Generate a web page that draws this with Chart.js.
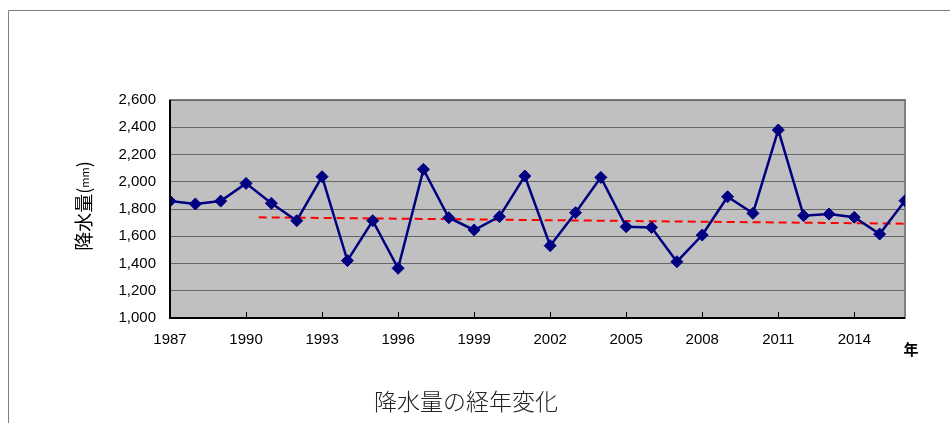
<!DOCTYPE html>
<html>
<head>
<meta charset="utf-8">
<script src="https://cdn.jsdelivr.net/npm/chart.js@4.4.1/dist/chart.umd.min.js"></script>
<style>
  html, body { margin: 0; padding: 0; background: #fff; }
  #wrap { width: 950px; height: 423px; position: relative; }
</style>
</head>
<body>
<div id="wrap"><canvas id="rainChart" width="950" height="423"></canvas></div>
<script>
// 年ごとの降水量 (mm)
const years = [1987, 1988, 1989, 1990, 1991, 1992, 1993, 1994, 1995, 1996,
               1997, 1998, 1999, 2000, 2001, 2002, 2003, 2004, 2005, 2006,
               2007, 2008, 2009, 2010, 2011, 2012, 2013, 2014, 2015, 2016];
const rainfall = [1858, 1837, 1858, 1988, 1842, 1714, 2037, 1421, 1714, 1365,
                  2091, 1736, 1646, 1744, 2042, 1531, 1773, 2032, 1670, 1665,
                  1413, 1609, 1890, 1768, 2380, 1751, 1763, 1739, 1616, 1861];
// 傾向線の両端
const trendYears = [1990.5, 2016];
const trendValues = [1739, 1692];
const xTickYears = [1987, 1990, 1993, 1996, 1999, 2002, 2005, 2008, 2011, 2014];

const FONT = "'Liberation Sans', Arial, sans-serif";
const JP = "'Noto Sans CJK JP', sans-serif";

const framePlugin = {
    id: 'frame',
    beforeDraw(chart) {
        const ctx = chart.ctx;
        const a = chart.chartArea;
        ctx.save();
        // outer frame
        ctx.strokeStyle = '#808080';
        ctx.lineWidth = 1;
        ctx.beginPath();
        ctx.moveTo(8.5, 423);
        ctx.lineTo(8.5, 10.5);
        ctx.lineTo(950, 10.5);
        ctx.stroke();
        // plot background
        ctx.fillStyle = '#c0c0c0';
        ctx.fillRect(a.left, a.top, a.right - a.left, a.bottom - a.top);
        ctx.strokeStyle = '#808080';
        ctx.lineWidth = 2;
        ctx.strokeRect(a.left, a.top, a.right - a.left, a.bottom - a.top);
        ctx.restore();
    },
    afterDraw(chart) {
        const ctx = chart.ctx;
        const a = chart.chartArea;
        const xs = chart.scales.x;
        ctx.save();
        // inward x tick marks
        ctx.strokeStyle = '#000';
        ctx.lineWidth = 1;
        xTickYears.forEach(y => {
            const px = Math.round(xs.getPixelForValue(y)) + 0.5;
            ctx.beginPath();
            ctx.moveTo(px, a.bottom - 6);
            ctx.lineTo(px, a.bottom);
            ctx.stroke();
        });
        // axis lines
        ctx.lineWidth = 2;
        ctx.beginPath();
        ctx.moveTo(a.left, a.top);
        ctx.lineTo(a.left, a.bottom);
        ctx.lineTo(a.right, a.bottom);
        ctx.stroke();

        ctx.fillStyle = '#000';
        // 年
        ctx.font = 'bold 15px ' + JP;
        ctx.textAlign = 'center';
        ctx.textBaseline = 'middle';
        ctx.fillText('年', 911, 349);

        // y axis title: 降水量(mm)
        ctx.translate(84, 206);
        ctx.rotate(-Math.PI / 2);
        ctx.textAlign = 'left';
        const parts = [
            ['降水量', '19px ' + JP, 0],
            ['(', '18px ' + JP, 0],
            ['mm', '11px ' + JP, 1],
            [')', '18px ' + JP, 0]
        ];
        let total = 0;
        parts.forEach(p => { ctx.font = p[1]; total += ctx.measureText(p[0]).width; });
        let x0 = -total / 2;
        parts.forEach(p => {
            ctx.font = p[1];
            ctx.fillText(p[0], x0, p[2]);
            x0 += ctx.measureText(p[0]).width;
        });
        ctx.restore();

        // bottom caption
        ctx.save();
        ctx.fillStyle = '#222';
        ctx.font = '300 23px ' + JP;
        ctx.textAlign = 'center';
        ctx.textBaseline = 'middle';
        ctx.fillText('降水量の経年変化', 466, 401);
        ctx.restore();
    }
};

const ctx = document.getElementById('rainChart').getContext('2d');
new Chart(ctx, {
    type: 'line',
    data: {
        datasets: [{
            label: '降水量',
            data: years.map((y, i) => ({ x: y, y: rainfall[i] })),
            borderColor: '#000080',
            backgroundColor: '#000080',
            borderWidth: 2.5,
            pointStyle: 'rectRot',
            pointRadius: 6,
            pointHoverRadius: 6,
            pointBorderWidth: 1,
            tension: 0
        }, {
            label: '傾向',
            data: trendYears.map((y, i) => ({ x: y, y: trendValues[i] })),
            borderColor: '#ff0000',
            borderWidth: 2,
            borderDash: [8, 5],
            pointRadius: 0,
            tension: 0
        }]
    },
    options: {
        responsive: false,
        animation: false,
        devicePixelRatio: 1,
        layout: { padding: { left: 75, top: 100, right: 45, bottom: 75 } },
        plugins: {
            legend: { display: false },
            tooltip: { enabled: false },
            title: { display: false }
        },
        scales: {
            x: {
                type: 'linear',
                min: 1987,
                max: 2016,
                afterFit: s => { s.height = 30; },
                afterBuildTicks: s => { s.ticks = xTickYears.map(v => ({ value: v })); },
                grid: { display: false, drawTicks: false },
                border: { display: false },
                ticks: {
                    padding: 13,
                    color: '#000',
                    font: { family: FONT, size: 15 },
                    maxRotation: 0,
                    autoSkip: false,
                    callback: v => String(v)
                }
            },
            y: {
                min: 1000,
                max: 2600,
                afterFit: s => { s.width = 95; },
                grid: { color: '#666', lineWidth: 1, drawTicks: false },
                border: { display: false },
                ticks: {
                    stepSize: 200,
                    padding: 14,
                    color: '#000',
                    font: { family: FONT, size: 15 },
                    callback: v => v.toLocaleString('en-US')
                }
            }
        }
    },
    plugins: [framePlugin]
});
</script>
</body>
</html>
